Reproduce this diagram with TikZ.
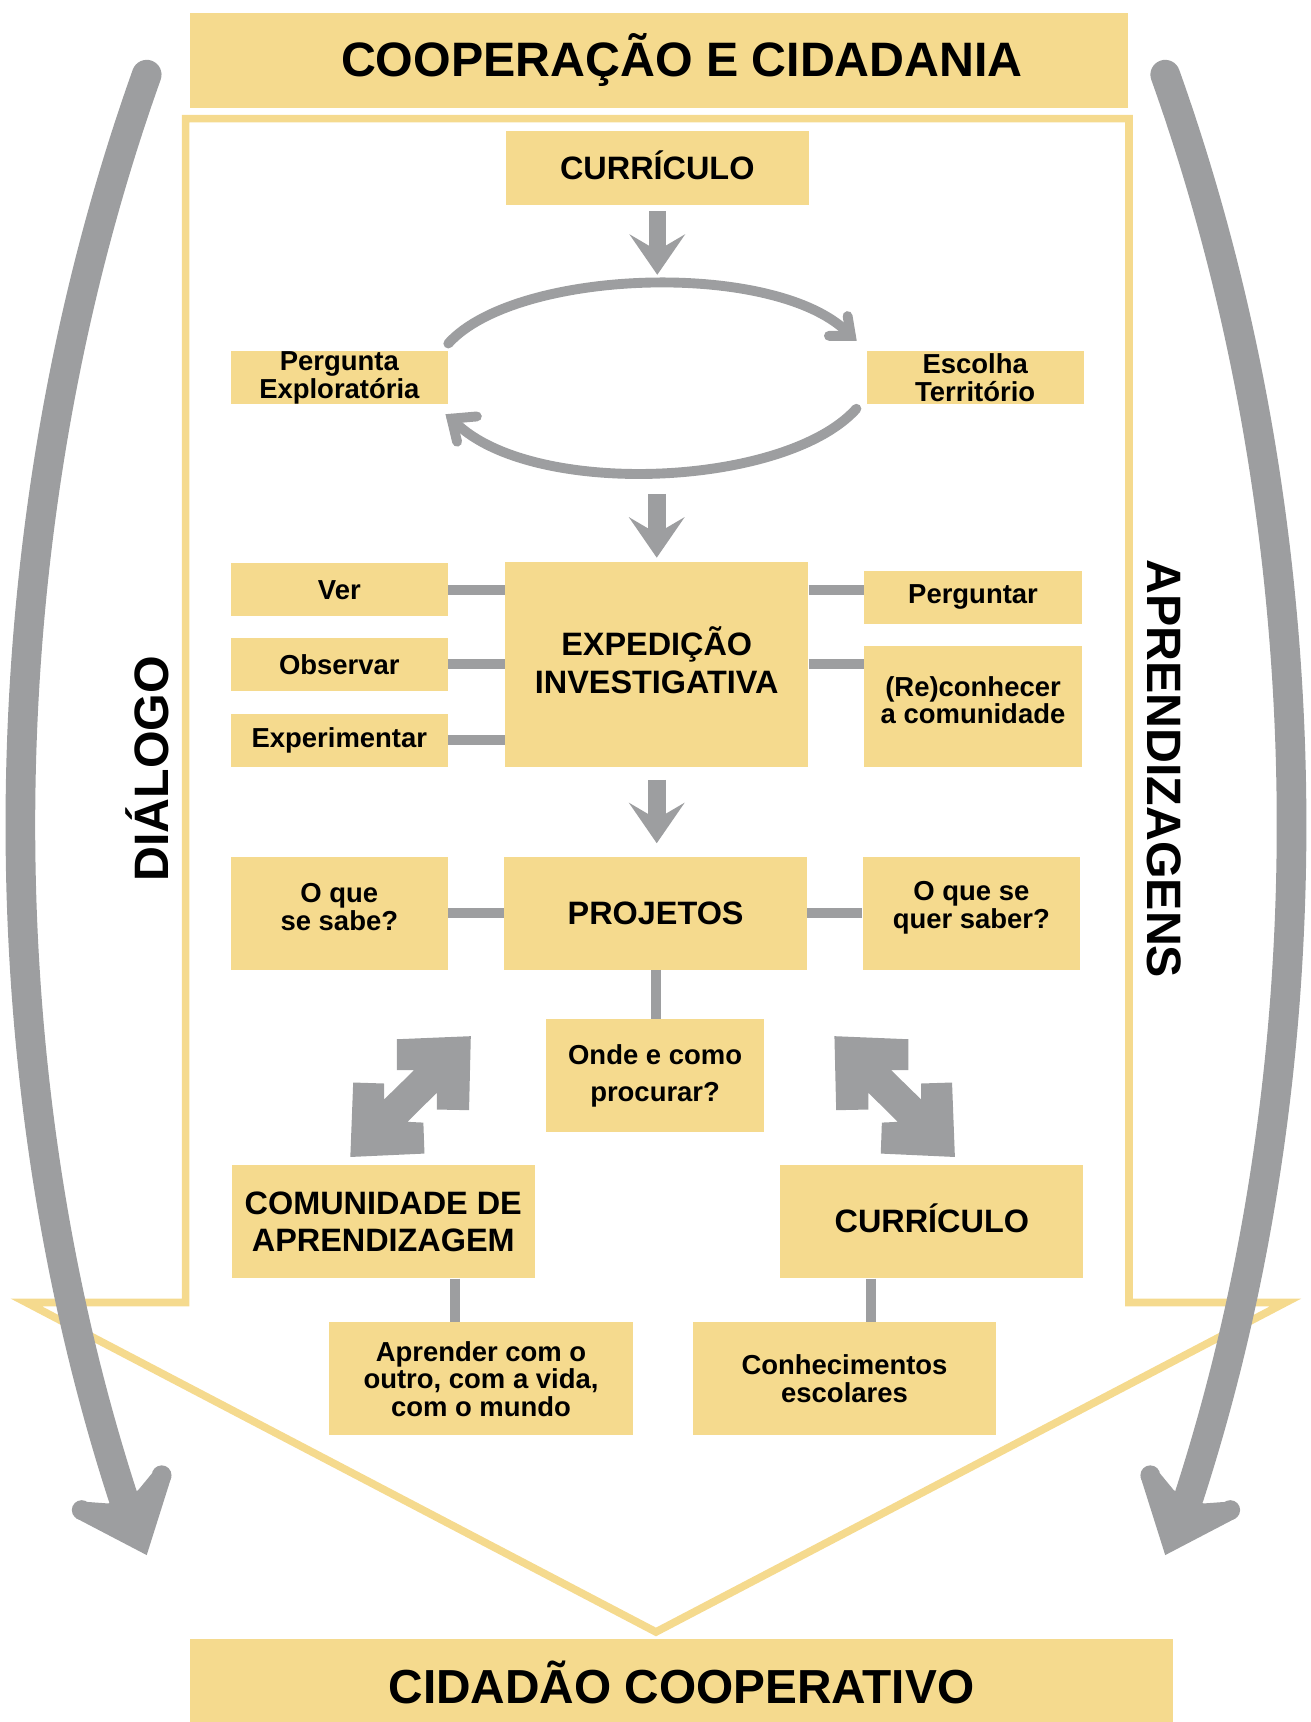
\documentclass[tikz,border=0pt]{standalone}
\usepackage{fontspec}
\setmainfont{Liberation Sans}
\usepackage{tikz}
\usetikzlibrary{arrows.meta,
                positioning}
\definecolor{boxyellow}{RGB}{245,218,142}
\definecolor{arrowgray}{RGB}{157,158,160}
\newcommand{\txtsmall}{\bfseries\fontsize{25}{25}\selectfont}
\newcommand{\txtbig}{\bfseries\fontsize{29.5}{34}\selectfont}
\newcommand{\txttitle}{\bfseries\fontsize{44}{50}\selectfont}
\newcommand{\padbelow}[1]{\\[#1]\mbox{}}
\tikzstyle{ybox} = [fill=boxyellow, inner sep=0pt, align=center]
\tikzstyle{smallbox} = [ybox, font=\txtsmall, minimum width=198pt, minimum height=48pt]
\tikzstyle{midbox} = [ybox, font=\txtsmall, minimum width=198pt, minimum height=103pt]
\tikzstyle{bigbox} = [ybox, font=\txtbig, minimum width=276pt, minimum height=103pt]
\tikzstyle{titlebox} = [fill=boxyellow, inner sep=0pt, font=\txttitle, minimum width=854pt, minimum height=86pt]
\tikzstyle{linkbar} = [draw=arrowgray, line width=9pt]
\tikzstyle{flowarrow} = [draw=arrowgray, line width=16pt, -{Stealth[length=37pt, width=51pt, inset=15pt, line width=0pt]}]
\tikzstyle{cyclearrow} = [draw=arrowgray, line width=9pt, line cap=round]
\tikzstyle{barbline} = [draw=arrowgray, line width=9pt, line cap=round, line join=miter]
\tikzstyle{frameline} = [draw=boxyellow, line width=7pt]
\newcommand{\bigsidearrow}{%
  \draw[arrowgray, line width=27pt, line cap=round] (133.6,-68) .. controls (-11.7,-475) and (-19.9,-956) .. (112,-1363);
  \fill[arrowgray] (133.6,-1416) -- (69.3,-1382.4) -- (79.5,-1367.6) -- (98.6,-1369) -- (125.7,-1357) -- (138.4,-1341.6) -- (156,-1345) -- cycle;
  \fill[arrowgray] (74.4,-1375) circle (9pt) (147.2,-1343.3) circle (9pt);
}
\newcommand{\doublearrow}{%
  \fill[arrowgray] (361.3,-946.3) -- (428.7,-943.5) -- (427.1,-1010.9) -- (397.7,-1010.3) -- (397.7,-995.1) -- (371,-1021.5) -- (385.5,-1022.2) -- (386.5,-1050.4) -- (319,-1053.5) -- (321.6,-985.7) -- (349.7,-986.6) -- (349.7,-1001.2) -- (377,-974.5) -- (361.3,-974.5) -- cycle;
}

\begin{document}
\begin{tikzpicture}[x=1pt, y=1pt]
\useasboundingbox (0,0) rectangle (1193,-1568);

\draw[frameline] (169,-108) -- (1028,-108) -- (1028,-1186) -- (1170.6,-1186) -- (597.3,-1486) -- (24,-1186) -- (169,-1186) -- cycle;

\node[titlebox] (coop) at (600,-55) {\hspace*{42pt}COOPERAÇÃO E CIDADANIA};
\node[titlebox, font=\bfseries\fontsize{43.5}{50}\selectfont, minimum width=895pt, minimum height=80pt] (cidadao) at (620.5,-1532) {CIDADÃO COOPERATIVO};

\bigsidearrow
\begin{scope}[xshift=1194.6pt, xscale=-1]
\bigsidearrow
\end{scope}

\node[font=\txttitle, rotate=90] (dialogo) at (134.6,-700) {DIÁLOGO};
\node[font=\txttitle, rotate=-90] (aprendizagens) at (1060,-700) {APRENDIZAGENS};

\node[bigbox, minimum height=68pt] (cur1) at (598.5,-153) {CURRÍCULO\padbelow{-28pt}};
\node[smallbox] (pergexp) at (309,-344) {Pergunta\\Exploratória};
\node[smallbox] (escterr) at (888,-344) {Escolha\\Território};

\node[bigbox, minimum height=186pt] (exped) at (598,-605) {EXPEDIÇÃO\\INVESTIGATIVA\padbelow{-26pt}};
\node[smallbox] (ver) at (309,-537) {Ver};
\node[smallbox] (observar) at (309,-605) {Observar};
\node[smallbox] (experim) at (309,-674) {Experimentar};
\node[smallbox] (perguntar) at (886,-544) {Perguntar};
\node[smallbox, minimum height=110pt] (reconhecer) at (886,-643) {(Re)conhecer\\a comunidade\padbelow{-14pt}};

\node[midbox] (sabe) at (309,-831.5) {O que\\se sabe?\padbelow{-14pt}};
\node[bigbox] (projetos) at (597,-831.5) {PROJETOS};
\node[midbox] (quer) at (884.5,-831.5) {O que se\\quer saber?\padbelow{-10pt}};
\node[midbox] (onde) at (596.5,-979.5) {Onde e como\\[9pt]procurar?};

\node[bigbox] (comunidade) at (349,-1112.5) {COMUNIDADE DE\\APRENDIZAGEM};
\node[bigbox] (cur2) at (848.5,-1112.5) {CURRÍCULO\padbelow{-28pt}};
\node[bigbox, font=\txtsmall] (aprender) at (438,-1255.5) {Aprender com o\\outro, com a vida,\\com o mundo};
\node[bigbox, font=\txtsmall] (conhec) at (769,-1255.5) {Conhecimentos\\escolares};

\draw[flowarrow] ([yshift=-5pt]cur1.south) -- ++(0,-58);
\draw[cyclearrow] ([yshift=7pt]pergexp.north east) to[out=48, in=132, looseness=0.65] ([xshift=-14pt, yshift=14pt]escterr.north west) coordinate (tipup);
\draw[barbline] (tipup) ++(-3,18) -- (tipup) -- ++(-20,0);
\draw[cyclearrow] ([xshift=-9pt, yshift=-4pt]escterr.south west) to[out=-132, in=-48, looseness=0.68] ([xshift=3pt, yshift=-13pt]pergexp.south east) coordinate (tipdown);
\draw[barbline] (tipdown) ++(23,2) -- (tipdown) -- ++(5,-21);
\draw[flowarrow] ([yshift=62pt]exped.north) -- ++(0,-58);
\draw[flowarrow] ([yshift=-12pt]exped.south) -- ([yshift=12pt]projetos.north -| exped.south);

\draw[linkbar] (ver.east) -- (exped.west |- ver.east);
\draw[linkbar] (observar.east) -- (exped.west |- observar.east);
\draw[linkbar] (experim.east) -- (exped.west |- experim.east);
\draw[linkbar] (exped.east |- ver.east) -- (perguntar.west |- ver.east);
\draw[linkbar] (exped.east |- observar.east) -- (reconhecer.west |- observar.east);

\draw[linkbar] (sabe.east) -- (projetos.west);
\draw[linkbar] (projetos.east) -- (quer.west);
\draw[linkbar] (projetos.south) -- (onde.north -| projetos.south);

\doublearrow
\begin{scope}[xshift=1188.5pt, xscale=-1]
\doublearrow
\end{scope}

\coordinate (lbar) at (414,0);
\coordinate (rbar) at (793,0);
\draw[linkbar] (comunidade.south -| lbar) -- (aprender.north -| lbar);
\draw[linkbar] (cur2.south -| rbar) -- (conhec.north -| rbar);
\end{tikzpicture}
\end{document}
